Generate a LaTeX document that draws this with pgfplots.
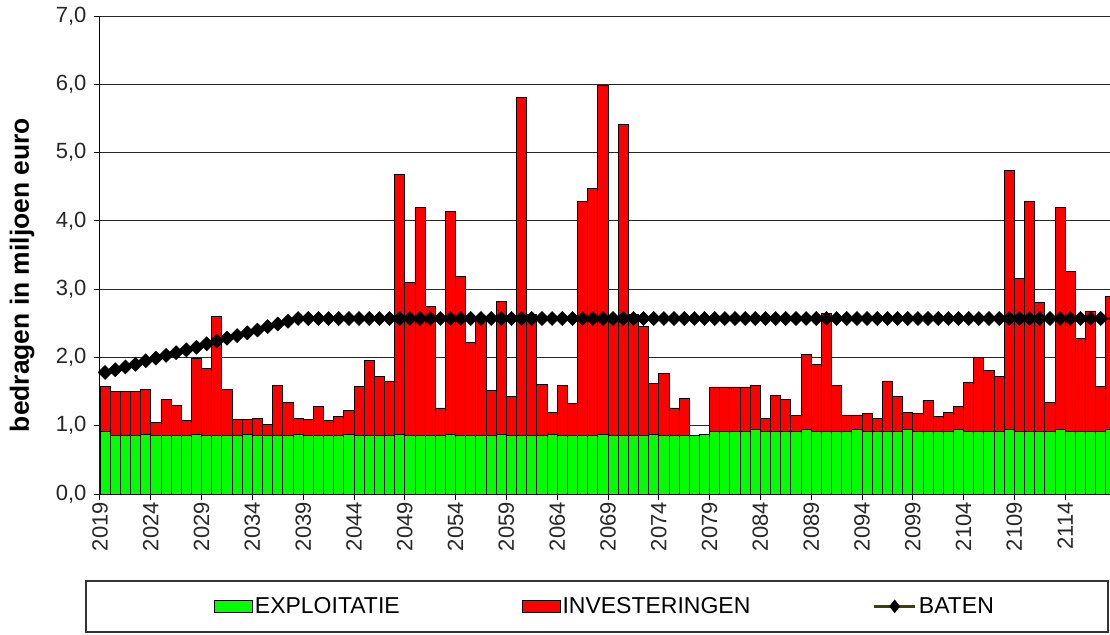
\documentclass[border=0pt]{standalone}
\usepackage{pgfplots}
\pgfplotsset{compat=1.18}
\usepackage{pgfplotstable}
\usepackage{fontspec}
\setmainfont{Liberation Sans}
\definecolor{xlgreen}{RGB}{0,255,0}
\definecolor{xlred}{RGB}{255,0,0}
\definecolor{olivedk}{RGB}{64,64,0}

\pgfplotstableread{
year expl total baten
2019 0.92 1.57 1.78
2020 0.855 1.50 1.82
2021 0.855 1.50 1.86
2022 0.855 1.50 1.90
2023 0.875 1.53 1.95
2024 0.855 1.045 1.99
2025 0.855 1.38 2.03
2026 0.855 1.30 2.07
2027 0.855 1.07 2.11
2028 0.875 1.99 2.15
2029 0.855 1.84 2.20
2030 0.855 2.595 2.24
2031 0.855 1.53 2.28
2032 0.855 1.085 2.32
2033 0.875 1.085 2.36
2034 0.855 1.11 2.40
2035 0.855 1.02 2.45
2036 0.855 1.59 2.49
2037 0.855 1.34 2.53
2038 0.875 1.11 2.57
2039 0.855 1.085 2.57
2040 0.855 1.275 2.57
2041 0.855 1.07 2.57
2042 0.855 1.13 2.57
2043 0.875 1.22 2.57
2044 0.855 1.57 2.57
2045 0.855 1.95 2.57
2046 0.855 1.72 2.57
2047 0.855 1.655 2.57
2048 0.875 4.68 2.57
2049 0.855 3.10 2.57
2050 0.855 4.20 2.57
2051 0.855 2.74 2.57
2052 0.855 1.26 2.57
2053 0.875 4.135 2.57
2054 0.855 3.19 2.57
2055 0.855 2.215 2.57
2056 0.855 2.54 2.57
2057 0.855 1.51 2.57
2058 0.875 2.82 2.57
2059 0.855 1.425 2.57
2060 0.855 5.81 2.57
2061 0.855 2.63 2.57
2062 0.855 1.61 2.57
2063 0.875 1.195 2.57
2064 0.855 1.59 2.57
2065 0.855 1.32 2.57
2066 0.855 4.28 2.57
2067 0.855 4.47 2.57
2068 0.875 5.99 2.57
2069 0.855 2.60 2.57
2070 0.855 5.41 2.57
2071 0.855 2.63 2.57
2072 0.855 2.45 2.57
2073 0.875 1.615 2.57
2074 0.855 1.76 2.57
2075 0.855 1.26 2.57
2076 0.855 1.405 2.57
2077 0.855 0.855 2.57
2078 0.875 0.875 2.57
2079 0.92 1.567 2.57
2080 0.92 1.567 2.57
2081 0.92 1.567 2.57
2082 0.92 1.567 2.57
2083 0.94 1.59 2.57
2084 0.92 1.11 2.57
2085 0.92 1.445 2.57
2086 0.92 1.38 2.57
2087 0.92 1.155 2.57
2088 0.94 2.05 2.57
2089 0.92 1.90 2.57
2090 0.92 2.65 2.57
2091 0.92 1.59 2.57
2092 0.92 1.157 2.57
2093 0.94 1.157 2.57
2094 0.92 1.18 2.57
2095 0.92 1.11 2.57
2096 0.92 1.655 2.57
2097 0.92 1.425 2.57
2098 0.94 1.195 2.57
2099 0.92 1.18 2.57
2100 0.92 1.365 2.57
2101 0.92 1.13 2.57
2102 0.92 1.19 2.57
2103 0.94 1.28 2.57
2104 0.92 1.635 2.57
2105 0.92 2.00 2.57
2106 0.92 1.805 2.57
2107 0.92 1.72 2.57
2108 0.94 4.74 2.57
2109 0.92 3.155 2.57
2110 0.92 4.28 2.57
2111 0.92 2.80 2.57
2112 0.92 1.34 2.57
2113 0.94 4.19 2.57
2114 0.92 3.26 2.57
2115 0.92 2.28 2.57
2116 0.92 2.68 2.57
2117 0.92 1.57 2.57
2118 0.94 2.89 2.57
}\data

\begin{document}
\begin{tikzpicture}
\begin{axis}[
  at={(0,0)}, anchor=south west,
  scale only axis, width=1010pt, height=478pt,
  xmin=2019, xmax=2118.41, ymin=0, ymax=7,
  axis x line*=bottom, axis y line*=left,
  axis line style={black, line width=1pt},
  tick align=outside, major tick length=6pt,
  tick style={black, line width=1pt},
  xtick={2019,2024,2029,2034,2039,2044,2049,2054,2059,2064,2069,2074,2079,2084,2089,2094,2099,2104,2109,2114},
  xticklabels={2019,2024,2029,2034,2039,2044,2049,2054,2059,2064,2069,2074,2079,2084,2089,2094,2099,2104,2109,2114},
  ytick={0,1,2,3,4,5,6,7},
  yticklabels={{0,0},{1,0},{2,0},{3,0},{4,0},{5,0},{6,0},{7,0}},
  ticklabel style={font=\fontsize{22}{26}\selectfont, text=black!85},
  xticklabel style={rotate=90, anchor=east, inner sep=2pt},
  yticklabel style={xshift=-4pt},
  ymajorgrids, major grid style={black!85, line width=0.9pt},
  ylabel={bedragen in miljoen euro},
  ylabel style={at={(axis description cs:-0.0772,0.458)}, anchor=center, font=\fontsize{26.4}{30}\selectfont\bfseries},
  legend columns=3,
  legend style={draw=none, fill=none, at={(0.500,-0.235)}, anchor=center,
    font=\fontsize{23}{27}\selectfont,
    /tikz/every even column/.append style={column sep=120pt},
    nodes={inner sep=2pt}},
  legend cell align=left,
]
\addlegendimage{legend image code/.code={\draw[fill=xlgreen,draw=black,line width=0.8pt] (0pt,-6pt) rectangle (38pt,6pt);}}
\addlegendentry{EXPLOITATIE}
\addlegendimage{legend image code/.code={\draw[fill=xlred,draw=black,line width=0.8pt] (0pt,-6pt) rectangle (38pt,6pt);}}
\addlegendentry{INVESTERINGEN}
\addlegendimage{legend image code/.code={\draw[olivedk,line width=3.5pt] (0pt,0pt) -- (41pt,0pt); \fill[black] (20.5pt,6.5pt) -- (25.5pt,0pt) -- (20.5pt,-6.5pt) -- (15.5pt,0pt) -- cycle;}}
\addlegendentry{BATEN}

\addplot[ybar, bar width=1, bar shift=0pt, fill=xlred, draw=black, line width=0.9pt, forget plot]
  table[x expr=\thisrow{year}+0.5, y=total] {\data};
\addplot[ybar, bar width=1, bar shift=0pt, fill=xlgreen, draw=black, line width=0.9pt, forget plot]
  table[x expr=\thisrow{year}+0.5, y=expl] {\data};
\addplot[black, line width=2.2pt, mark=square*, mark size=5pt, mark options={rotate=45, fill=black, draw=black, line width=0.4pt}, forget plot]
  table[x expr=\thisrow{year}+0.5, y=baten] {\data};
\end{axis}
\draw[black!80, line width=1.2pt] (-14pt,-87pt) rectangle (1008pt,-138pt);
\pgfresetboundingbox
\path (-100pt,-140pt) rectangle (1010pt,494pt);
\end{tikzpicture}
\end{document}
